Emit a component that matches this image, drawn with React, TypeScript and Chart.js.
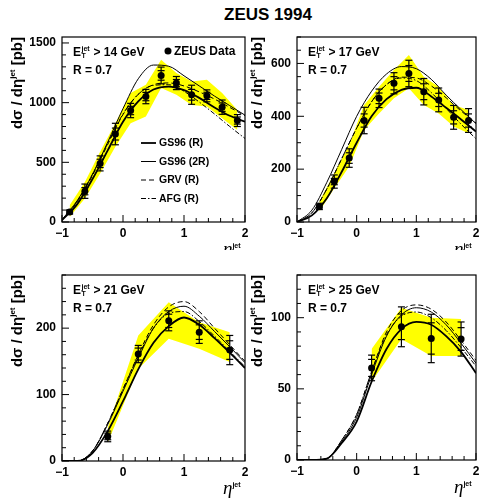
import React, { useEffect, useRef } from "react";
import { Chart, registerables } from "chart.js";
Chart.register(...registerables);

const FONT = '"Liberation Sans", Arial, Helvetica, sans-serif';

// ---- shared ----
const curveEta = [-1, -0.75, -0.5, -0.25, 0, 0.25, 0.5, 0.75, 1, 1.25, 1.5, 1.75, 2];
const xTickLabels = [-1, 0, 1, 2];
const curveNames = ["GS96 (R)", "GS96 (2R)", "GRV (R)", "AFG (R)"];

// ---- panel 1 : ET > 14 GeV ----
const p1Eta = [-0.875, -0.625, -0.375, -0.125, 0.125, 0.375, 0.625, 0.875, 1.125, 1.375, 1.625, 1.875];
const p1Val = [84, 258, 491, 737, 934, 1051, 1228, 1164, 1066, 1057, 962, 850];
const p1Stat = [10, 30, 35, 50, 35, 35, 40, 30, 45, 30, 35, 30];
const p1Tot = [18, 60, 63, 90, 60, 60, 70, 55, 80, 50, 60, 50];
const p1BandHi = [140, 336, 589, 827, 1080, 1150, 1360, 1248, 1178, 1192, 1080, 939];
const p1BandLo = [42, 196, 407, 631, 827, 883, 1122, 1066, 981, 967, 869, 771];
const p1GS96R = [15, 150, 360, 600, 840, 1010, 1110, 1135, 1105, 1040, 960, 890, 840];
const p1GS96_2R = [20, 180, 400, 670, 950, 1200, 1315, 1305, 1225, 1140, 1055, 975, 895];
const p1GRV = [15, 170, 390, 650, 900, 1070, 1150, 1165, 1140, 1090, 1030, 960, 890];
const p1AFG = [15, 175, 400, 660, 905, 1070, 1145, 1150, 1095, 1005, 905, 800, 700];
const y1Ticks = [0, 500, 1000, 1500];

// ---- panel 2 : ET > 17 GeV ----
const p2Eta = [-0.625, -0.375, -0.125, 0.125, 0.375, 0.625, 0.875, 1.125, 1.375, 1.625, 1.875];
const p2Val = [59, 153, 242, 384, 468, 525, 562, 493, 462, 396, 384];
const p2Stat = [6, 12, 20, 25, 20, 25, 30, 30, 25, 25, 25];
const p2Tot = [12, 25, 35, 50, 35, 40, 50, 50, 45, 45, 45];
const p2BandHi = [78, 185, 292, 443, 512, 575, 632, 550, 512, 443, 424];
const p2BandLo = [40, 128, 210, 348, 411, 468, 506, 443, 411, 361, 336];
const p2GS96R = [0, 25, 90, 190, 300, 400, 465, 500, 508, 475, 432, 388, 342];
const p2GS96_2R = [0, 45, 150, 275, 400, 495, 560, 588, 580, 540, 480, 425, 372];
const p2GRV = [0, 35, 125, 240, 355, 455, 520, 548, 545, 515, 470, 420, 375];
const p2AFG = [0, 35, 125, 240, 355, 455, 520, 545, 535, 490, 430, 370, 315];
const y2Ticks = [0, 200, 400, 600];

// ---- panel 3 : ET > 21 GeV ----
const p3Eta = [-0.25, 0.25, 0.75, 1.25, 1.75];
const p3Val = [37, 161, 211, 194, 167];
const p3Stat = [5, 9, 10, 11, 14];
const p3Tot = [8, 13, 15, 17, 22];
const p3BandHi = [50, 189, 239, 209, 194];
const p3BandLo = [28, 139, 184, 169, 149];
const p3GS96R = [0, 0, 12, 45, 90, 138, 178, 203, 216, 205, 185, 163, 140];
const p3GS96_2R = [0, 0, 15, 55, 105, 155, 200, 225, 233, 218, 195, 172, 148];
const p3GRV = [0, 0, 15, 57, 108, 160, 205, 232, 240, 225, 200, 175, 150];
const p3AFG = [0, 0, 15, 57, 108, 158, 200, 222, 225, 210, 188, 165, 142];
const y3Ticks = [0, 100, 200];

// ---- panel 4 : ET > 25 GeV ----
const p4Eta = [0.25, 0.75, 1.25, 1.75];
const p4Val = [64.7, 93.6, 85.4, 85];
const p4Stat = [6, 9, 11, 8];
const p4Tot = [9, 14, 17, 12];
const p4BandHi = [78, 107, 100, 99];
const p4BandLo = [55, 85, 73, 73];
const p4GS96R = [0, 0, 1, 12, 27, 55, 78, 92, 97, 95, 87, 76, 61];
const p4GS96_2R = [0, 0, 1, 13, 30, 60, 87, 102, 107, 104, 95, 82, 68];
const p4GRV = [0, 0, 1, 14, 32, 62, 90, 105, 109, 106, 97, 84, 70];
const p4AFG = [0, 0, 1, 14, 32, 62, 88, 101, 104, 100, 91, 79, 66];
const y4Ticks = [0, 50, 100];

const curveStyles = [
  { width: 1.8, dash: [] as number[] },
  { width: 1, dash: [] as number[] },
  { width: 1, dash: [5, 3] },
  { width: 1, dash: [5, 2, 1.5, 2] },
];

type Panel = {
  cut: string;
  yMax: number;
  yTicks: number[];
  yMinor: number;
  eta: number[];
  val: number[];
  stat: number[];
  tot: number[];
  bandHi: number[];
  bandLo: number[];
  curves: number[][];
  legend: boolean;
  box: { left: number; top: number; w: number; h: number };
  pad: { left: number; top: number; right: number; bottom: number };
};

const panels: Panel[] = [
  {
    cut: "14", yMax: 1550, yTicks: y1Ticks, yMinor: 100,
    eta: p1Eta, val: p1Val, stat: p1Stat, tot: p1Tot, bandHi: p1BandHi, bandLo: p1BandLo,
    curves: [p1GS96R, p1GS96_2R, p1GRV, p1AFG], legend: true,
    box: { left: 0, top: 0, w: 250, h: 250 }, pad: { left: 62, top: 37, right: 5, bottom: 28 },
  },
  {
    cut: "17", yMax: 700, yTicks: y2Ticks, yMinor: 50,
    eta: p2Eta, val: p2Val, stat: p2Stat, tot: p2Tot, bandHi: p2BandHi, bandLo: p2BandLo,
    curves: [p2GS96R, p2GS96_2R, p2GRV, p2AFG], legend: false,
    box: { left: 240, top: 0, w: 240, h: 250 }, pad: { left: 57, top: 37, right: 0, bottom: 28 },
  },
  {
    cut: "21", yMax: 280, yTicks: y3Ticks, yMinor: 20,
    eta: p3Eta, val: p3Val, stat: p3Stat, tot: p3Tot, bandHi: p3BandHi, bandLo: p3BandLo,
    curves: [p3GS96R, p3GS96_2R, p3GRV, p3AFG], legend: false,
    box: { left: 0, top: 250, w: 250, h: 251 }, pad: { left: 62, top: 25, right: 5, bottom: 40 },
  },
  {
    cut: "25", yMax: 130, yTicks: y4Ticks, yMinor: 10,
    eta: p4Eta, val: p4Val, stat: p4Stat, tot: p4Tot, bandHi: p4BandHi, bandLo: p4BandLo,
    curves: [p4GS96R, p4GS96_2R, p4GRV, p4AFG], legend: false,
    box: { left: 240, top: 250, w: 240, h: 251 }, pad: { left: 57, top: 25, right: 0, bottom: 41 },
  },
];

function fmt(v: number) {
  return v < 0 ? "\u2212" + Math.abs(v) : String(v);
}

function line(ctx: CanvasRenderingContext2D, x0: number, y0: number, x1: number, y1: number) {
  ctx.beginPath();
  ctx.moveTo(x0, y0);
  ctx.lineTo(x1, y1);
  ctx.stroke();
}

function decor(p: Panel) {
  return {
    id: "decor",
    afterDatasetsDraw(chart: any) {
      const { ctx, scales } = chart;
      const x = scales.x, y = scales.y;
      ctx.save();
      ctx.strokeStyle = "#000";
      ctx.lineWidth = 1.2;
      p.eta.forEach((e, i) => {
        const px = x.getPixelForValue(e);
        const v = p.val[i];
        const t1 = y.getPixelForValue(v + p.tot[i]);
        const t0 = y.getPixelForValue(v - p.tot[i]);
        const s1 = y.getPixelForValue(v + p.stat[i]);
        const s0 = y.getPixelForValue(v - p.stat[i]);
        line(ctx, px, t0, px, t1);
        [t0, t1, s0, s1].forEach((yy) => line(ctx, px - 3.5, yy, px + 3.5, yy));
      });
      ctx.restore();
    },
    afterDraw(chart: any) {
      const { ctx, chartArea: a, scales } = chart;
      const x = scales.x, y = scales.y;
      ctx.save();
      ctx.strokeStyle = "#000";
      ctx.fillStyle = "#000";
      ctx.lineWidth = 1.2;
      ctx.strokeRect(a.left, a.top, a.right - a.left, a.bottom - a.top);

      // x ticks (inward)
      ctx.lineWidth = 1;
      for (let k = 0; k <= 15; k++) {
        const v = -1 + k * 0.2;
        const major = xTickLabels.some((t) => Math.abs(t - v) < 1e-6);
        const px = x.getPixelForValue(v);
        line(ctx, px, a.bottom, px, a.bottom - (major ? 7 : 4));
      }
      // y ticks (inward)
      for (let v = 0; v <= p.yMax + 1e-6; v += p.yMinor) {
        const major = p.yTicks.some((t) => Math.abs(t - v) < 1e-6);
        const py = y.getPixelForValue(v);
        line(ctx, a.left, py, a.left + (major ? 7 : 4), py);
      }

      // tick labels
      ctx.font = `bold 12px ${FONT}`;
      ctx.textAlign = "center";
      ctx.textBaseline = "middle";
      xTickLabels.forEach((t) => ctx.fillText(fmt(t), x.getPixelForValue(t), a.bottom + 12));
      ctx.textAlign = "right";
      p.yTicks.forEach((t) => ctx.fillText(fmt(t), a.left - 6, y.getPixelForValue(t)));

      // y title (rotated)
      ctx.save();
      ctx.translate(22, a.top);
      ctx.rotate(-Math.PI / 2);
      ctx.textAlign = "left";
      ctx.textBaseline = "alphabetic";
      const main = "d\u03c3 / d\u03b7";
      const sup = "jet";
      const tail = " [pb]";
      ctx.font = `bold 15px ${FONT}`;
      const w1 = ctx.measureText(main).width;
      const w3 = ctx.measureText(tail).width;
      ctx.font = `bold 8px ${FONT}`;
      const w2 = ctx.measureText(sup).width;
      let cx = -(w1 + w2 + w3);
      ctx.font = `bold 15px ${FONT}`;
      ctx.fillText(main, cx, 0);
      cx += w1;
      ctx.font = `bold 8px ${FONT}`;
      ctx.fillText(sup, cx, -7);
      cx += w2;
      ctx.font = `bold 15px ${FONT}`;
      ctx.fillText(tail, cx, 0);
      ctx.restore();

      // x title eta^jet
      ctx.textAlign = "left";
      ctx.textBaseline = "alphabetic";
      ctx.font = `italic 19px "Liberation Serif", "DejaVu Serif", serif`;
      const ex = a.right - 22;
      ctx.fillText("\u03b7", ex, a.bottom + 33);
      const we = ctx.measureText("\u03b7").width;
      ctx.font = `bold 7px ${FONT}`;
      ctx.fillText("jet", ex + we, a.bottom + 26);

      // E_T^jet > .. GeV, R = 0.7
      const tx = a.left + 11;
      const ty = a.top + 19;
      ctx.font = `bold 12px ${FONT}`;
      ctx.fillText("E", tx, ty);
      const wE = ctx.measureText("E").width;
      ctx.font = `bold 7px ${FONT}`;
      ctx.fillText("jet", tx + wE + 0.5, ty - 5);
      ctx.fillText("T", tx + wE + 0.5, ty + 2);
      const wj = ctx.measureText("jet").width;
      ctx.font = `bold 12px ${FONT}`;
      ctx.fillText(` > ${p.cut} GeV`, tx + wE + wj + 1, ty);
      ctx.fillText("R = 0.7", tx, a.top + 37);

      if (p.legend) {
        // ZEUS Data marker
        ctx.beginPath();
        ctx.arc(a.left + 106, a.top + 14, 3.5, 0, Math.PI * 2);
        ctx.fill();
        ctx.fillText("ZEUS Data", a.left + 112, a.top + 18);
        // curve legend
        ctx.font = `bold 10.5px ${FONT}`;
        ctx.textBaseline = "middle";
        curveNames.forEach((name, k) => {
          const ly = a.top + 106 + k * 18.5;
          ctx.save();
          ctx.lineWidth = curveStyles[k].width;
          ctx.setLineDash(curveStyles[k].dash);
          line(ctx, a.left + 79, ly, a.left + 94, ly);
          ctx.restore();
          ctx.fillText(name, a.left + 97, ly + 0.5);
        });
      }
      ctx.restore();
    },
  };
}

function PanelChart({ p }: { p: Panel }) {
  const ref = useRef<HTMLCanvasElement>(null);
  useEffect(() => {
    const c = ref.current!;
    const datasets: any[] = [
      {
        data: p.eta.map((e, i) => ({ x: e, y: p.bandHi[i] })),
        fill: "+1", backgroundColor: "#ffff00", borderColor: "rgba(0,0,0,0)",
        borderWidth: 0, pointRadius: 0, tension: 0, order: 3,
      },
      {
        data: p.eta.map((e, i) => ({ x: e, y: p.bandLo[i] })),
        fill: false, borderColor: "rgba(0,0,0,0)", borderWidth: 0, pointRadius: 0, tension: 0, order: 3,
      },
      ...p.curves.map((cv, k) => ({
        data: curveEta.map((e, i) => ({ x: e, y: cv[i] })),
        borderColor: "#000", borderWidth: curveStyles[k].width, borderDash: curveStyles[k].dash,
        pointRadius: 0, fill: false, cubicInterpolationMode: "monotone", order: 2,
      })),
      {
        data: p.eta.map((e, i) => ({ x: e, y: p.val[i] })),
        showLine: false, pointRadius: 3.5, pointBackgroundColor: "#000",
        pointBorderColor: "#000", pointBorderWidth: 0, order: 1,
      },
    ];
    const chart = new Chart(c, {
      type: "line",
      data: { datasets },
      options: {
        responsive: false,
        animation: false,
        devicePixelRatio: 1,
        events: [],
        layout: { padding: p.pad },
        plugins: { legend: { display: false }, tooltip: { enabled: false } },
        scales: {
          x: { type: "linear", min: -1, max: 2, display: false },
          y: { type: "linear", min: 0, max: p.yMax, display: false },
        },
      } as any,
      plugins: [decor(p)],
    });
    return () => chart.destroy();
  }, []);
  return (
    <canvas
      ref={ref}
      width={p.box.w}
      height={p.box.h}
      style={{ position: "absolute", left: p.box.left, top: p.box.top, width: p.box.w, height: p.box.h }}
    />
  );
}

export default function App() {
  return (
    <div style={{ position: "absolute", left: 0, top: 0, width: 480, height: 501, background: "#fff", overflow: "hidden" }}>
      <div
        style={{
          position: "absolute", left: 268, top: 5, transform: "translateX(-50%)",
          font: `bold 17px ${FONT}`, whiteSpace: "nowrap", color: "#000",
        }}
      >
        ZEUS 1994
      </div>
      {panels.map((p, i) => (
        <PanelChart key={i} p={p} />
      ))}
    </div>
  );
}
